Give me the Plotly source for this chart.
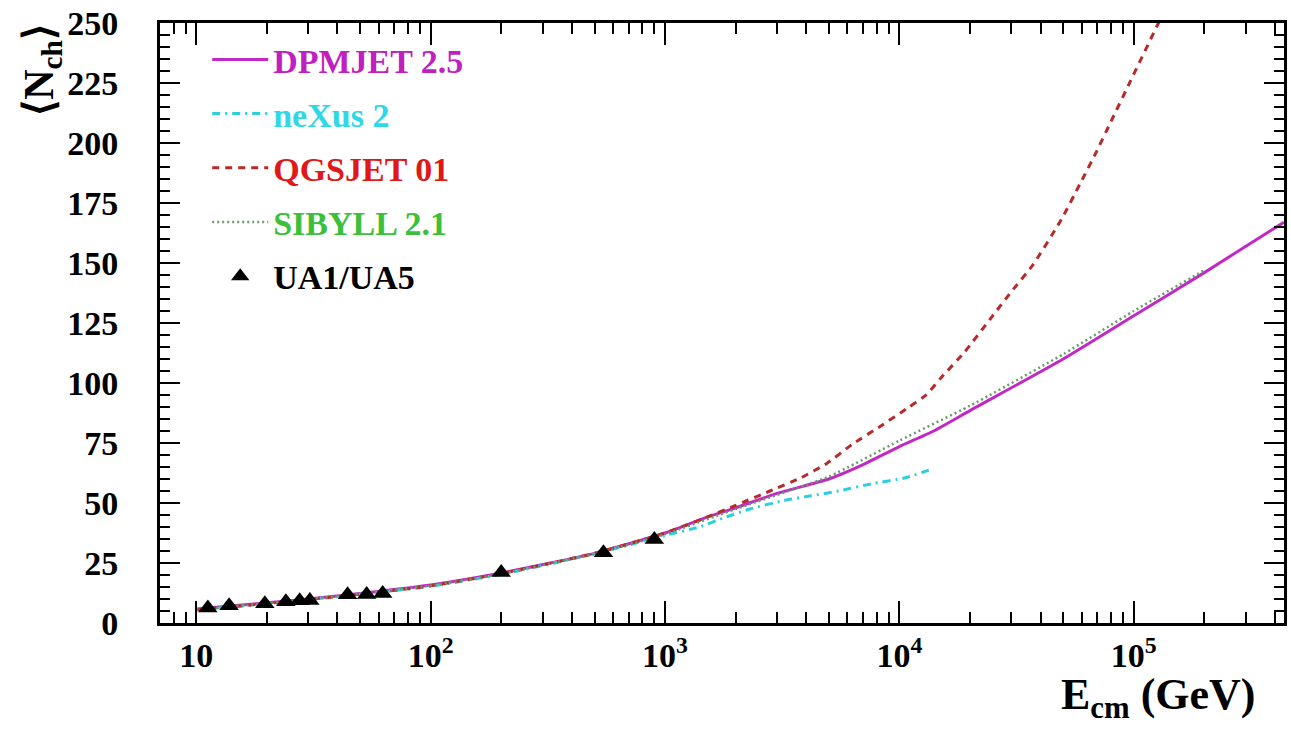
import plotly.graph_objects as go

# ---- data ----
dpmjet_E = [10, 20, 30, 50, 100, 200, 500, 1000, 1500, 2000, 3000, 5000, 7000, 1e4, 1.4e4, 2e4, 5e4, 1e5, 2e5, 4.37e5]
dpmjet_N = [5.8, 8.4, 10.0, 12.3, 15.8, 20.8, 29.0, 37.5, 44.0, 48.0, 54.0, 60.0, 66.0, 73.5, 80.0, 88.5, 110.0, 128.0, 146.0, 167.0]

nexus_E = [10, 20, 50, 100, 200, 500, 1000, 1400, 1800, 2300, 3200, 4200, 5500, 7600, 1.06e4, 1.36e4]
nexus_N = [5.5, 8.0, 12.0, 15.3, 20.3, 28.8, 36.5, 40.0, 44.0, 47.5, 51.0, 53.0, 55.0, 58.0, 60.5, 64.0]

qgsjet_E = [10, 20, 50, 100, 200, 500, 1000, 1500, 2000, 2800, 3800, 4900, 6300, 8300, 1.1e4, 1.3e4,
            1.5e4, 1.9e4, 2.5e4, 3e4, 3.7e4, 4.9e4, 5.9e4, 6.9e4, 8e4, 9.7e4, 1.26e5, 1.4e5]
qgsjet_N = [5.5, 8.1, 12.0, 15.5, 20.6, 29.0, 37.5, 44.0, 49.0, 55.0, 60.5, 66.5, 74.5, 82.0, 90.0, 95.0,
            102.0, 113.0, 128.0, 138.0, 149.0, 168.0, 183.0, 196.0, 209.0, 226.0, 249.0, 258.0]

sibyll_E = [10, 20, 50, 100, 200, 500, 1000, 2000, 5000, 1e4, 2e4, 5e4, 1e5, 2e5]
sibyll_N = [5.6, 8.2, 12.2, 15.6, 20.5, 28.8, 37.0, 47.5, 61.0, 76.0, 90.5, 112.0, 130.0, 147.0]

ua_E = [11.2, 13.8, 19.6, 24.1, 27.6, 30.5, 44.2, 53.3, 62.4, 200, 546, 900]
ua_N = [6.3, 7.2, 8.0, 8.9, 9.3, 9.4, 11.8, 11.9, 12.3, 21.0, 29.3, 34.8]

x_tickvals = [10, 100, 1e3, 1e4, 1e5]
x_ticktext = ["10", "10<sup>2</sup>", "10<sup>3</sup>", "10<sup>4</sup>", "10<sup>5</sup>"]
y_tickvals = [0, 25, 50, 75, 100, 125, 150, 175, 200, 225, 250]

names = ["DPMJET 2.5", "neXus 2", "QGSJET 01", "SIBYLL 2.1", "UA1/UA5"]
text_colors = ["#c21fc2", "#2fd8e6", "#e01818", "#3cc03c", "#000000"]

FONT = "Liberation Serif"

fig = go.Figure()

def label(i):
    return f'<span style="color:{text_colors[i]}">{names[i]}</span>'

fig.add_trace(go.Scatter(x=dpmjet_E, y=dpmjet_N, mode="lines", name=label(0), legendgroup="a",
                         line=dict(color="#c428c4", width=3, shape="spline", smoothing=0.5)))
fig.add_trace(go.Scatter(x=nexus_E, y=nexus_N, mode="lines", name=label(1), legendgroup="b",
                         line=dict(color="#2ccfe0", width=3, dash="8px,5px,2px,5px", shape="spline", smoothing=0.5)))
fig.add_trace(go.Scatter(x=qgsjet_E, y=qgsjet_N, mode="lines", name=label(2), legendgroup="c",
                         line=dict(color="#b82a2a", width=3, dash="7px,6px", shape="spline", smoothing=0.5)))
fig.add_trace(go.Scatter(x=sibyll_E, y=sibyll_N, mode="lines", name=label(3), legendgroup="d",
                         line=dict(color="#6a9a6a", width=2.5, dash="2px,3px", shape="spline", smoothing=0.5)))
fig.add_trace(go.Scatter(x=ua_E, y=ua_N, mode="markers", name=label(4), legendgroup="e",
                         marker=dict(symbol="triangle-up", size=17, color="black")))

minor_x = [m * 10 ** k for k in range(0, 6) for m in range(2, 10) if 7 <= m * 10 ** k <= 4.4e5]

axis_common = dict(showline=True, linewidth=3, linecolor="black", mirror="ticks",
                   ticks="inside", tickcolor="black", tickwidth=2, showgrid=False, zeroline=False,
                   tickfont=dict(family=FONT, size=34, color="black", weight="bold"))

fig.update_layout(
    width=1291, height=730,
    margin=dict(l=160, r=4, t=23, b=107),
    paper_bgcolor="white", plot_bgcolor="white",
    showlegend=True,
    legend=dict(x=0.042, y=0.987, xanchor="left", yanchor="top", bgcolor="rgba(0,0,0,0)",
                font=dict(family=FONT, size=34, color="black", weight="bold"),
                traceorder="grouped", tracegroupgap=7, itemwidth=56),
    xaxis=dict(type="log", range=[0.845, 5.641], tickmode="array", tickvals=x_tickvals,
               ticktext=x_ticktext, ticklen=22, ticklabelstandoff=0,
               minor=dict(tickmode="array", tickvals=minor_x, ticks="inside", ticklen=11,
                          tickwidth=2, tickcolor="black", showgrid=False),
               **axis_common),
    yaxis=dict(range=[0, 250], tickmode="array", tickvals=y_tickvals, ticklen=20,
               ticklabelstandoff=32,
               minor=dict(dtick=5, ticks="inside", ticklen=10, tickwidth=2, tickcolor="black",
                          showgrid=False),
               **axis_common),
)

fig.add_annotation(text="⟨N<sub>ch</sub>⟩", xref="paper", yref="paper", x=-0.105, y=0.922,
                   xanchor="center", yanchor="middle", textangle=-90, showarrow=False,
                   font=dict(family=FONT, size=42, color="black", weight="bold"))
fig.add_annotation(text="E<sub>cm</sub> (GeV)", xref="paper", yref="paper", x=0.888, y=-0.124,
                   xanchor="center", yanchor="middle", showarrow=False,
                   font=dict(family=FONT, size=44, color="black", weight="bold"))

fig.write_html("out.html")
